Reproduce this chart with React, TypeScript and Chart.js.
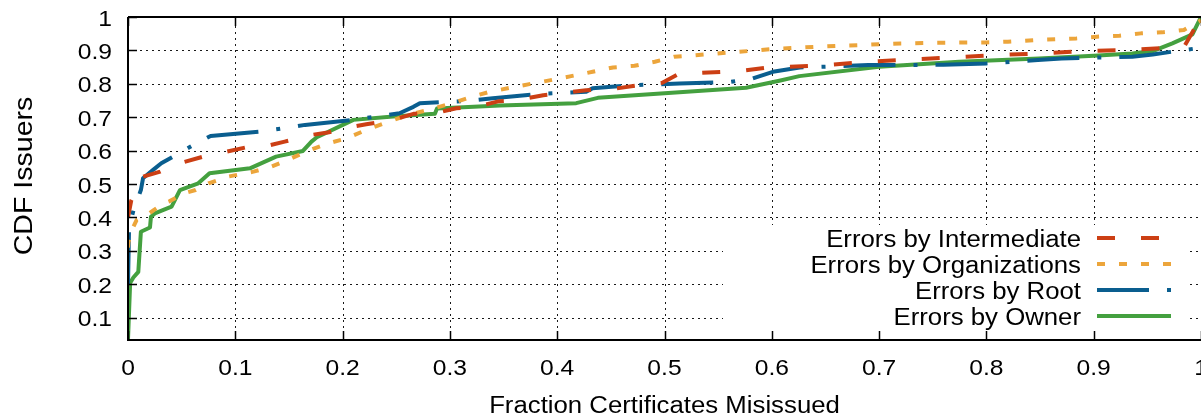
import React, { useEffect, useRef } from 'react';
import { Chart, registerables } from 'chart.js';

Chart.register(...registerables);

const X_TICKS = [0, 0.1, 0.2, 0.3, 0.4, 0.5, 0.6, 0.7, 0.8, 0.9, 1];
const X_TICK_LABELS = ['0', '0.1', '0.2', '0.3', '0.4', '0.5', '0.6', '0.7', '0.8', '0.9', '1'];
const Y_TICKS = [0.1, 0.2, 0.3, 0.4, 0.5, 0.6, 0.7, 0.8, 0.9, 1];
const Y_TICK_LABELS = ['0.1', '0.2', '0.3', '0.4', '0.5', '0.6', '0.7', '0.8', '0.9', '1'];

const SERIES_NAMES = ['Errors by Intermediate', 'Errors by Organizations', 'Errors by Root', 'Errors by Owner'];

const intermediatePts: [number, number][] = [
  [0, 0.40], [0.003, 0.45], [0.014, 0.522], [0.03, 0.537], [0.048, 0.562], [0.07, 0.582],
  [0.092, 0.597], [0.109, 0.609], [0.132, 0.616], [0.146, 0.627], [0.171, 0.647], [0.186, 0.654],
  [0.21, 0.672], [0.222, 0.679], [0.247, 0.692], [0.266, 0.71], [0.288, 0.713], [0.306, 0.727],
  [0.321, 0.728], [0.346, 0.748], [0.362, 0.751], [0.387, 0.766], [0.4, 0.771], [0.427, 0.781],
  [0.455, 0.786], [0.483, 0.799], [0.498, 0.803], [0.514, 0.831], [0.53, 0.832], [0.554, 0.836],
  [0.57, 0.838], [0.595, 0.848], [0.65, 0.856], [0.69, 0.866], [0.73, 0.873], [0.77, 0.879],
  [0.81, 0.886], [0.85, 0.891], [0.89, 0.898], [0.93, 0.901], [0.97, 0.908], [0.985, 0.915],
  [1.0, 1.0],
];

const organizationsPts: [number, number][] = [
  [0, 0.31], [0.0005, 0.327], [0.005, 0.372], [0.008, 0.392], [0.019, 0.41], [0.024, 0.422],
  [0.033, 0.442], [0.039, 0.449], [0.052, 0.472], [0.063, 0.482], [0.075, 0.502], [0.093, 0.522],
  [0.117, 0.537], [0.132, 0.55], [0.149, 0.572], [0.166, 0.597], [0.185, 0.62], [0.204, 0.637],
  [0.222, 0.662], [0.241, 0.684], [0.261, 0.707], [0.28, 0.722], [0.302, 0.742], [0.321, 0.762],
  [0.337, 0.776], [0.356, 0.788], [0.374, 0.799], [0.394, 0.811], [0.413, 0.823], [0.433, 0.836],
  [0.452, 0.849], [0.472, 0.854], [0.491, 0.866], [0.509, 0.881], [0.523, 0.884], [0.542, 0.889],
  [0.562, 0.894], [0.582, 0.899], [0.6, 0.904], [0.643, 0.911], [0.663, 0.914], [0.683, 0.916],
  [0.703, 0.919], [0.72, 0.921], [0.76, 0.923], [0.8, 0.924], [0.82, 0.926], [0.845, 0.931],
  [0.884, 0.936], [0.903, 0.941], [0.924, 0.944], [0.944, 0.951], [0.964, 0.954], [0.984, 0.961],
  [1.0, 0.99],
];

const rootPts: [number, number][] = [
  [0, 0.2], [0.001, 0.37], [0.005, 0.42], [0.012, 0.482], [0.014, 0.517], [0.024, 0.544],
  [0.031, 0.562], [0.042, 0.582], [0.06, 0.615], [0.077, 0.644], [0.123, 0.657], [0.15, 0.669],
  [0.165, 0.677], [0.21, 0.692], [0.253, 0.712], [0.266, 0.731], [0.272, 0.742], [0.297, 0.746],
  [0.318, 0.749], [0.34, 0.757], [0.384, 0.77], [0.405, 0.773], [0.427, 0.776], [0.433, 0.787],
  [0.471, 0.796], [0.493, 0.798], [0.514, 0.801], [0.562, 0.806], [0.582, 0.816], [0.601, 0.836],
  [0.626, 0.849], [0.647, 0.851], [0.69, 0.856], [0.76, 0.857], [0.8, 0.861], [0.848, 0.871],
  [0.87, 0.876], [0.936, 0.881], [0.955, 0.888], [1.0, 0.908],
];

const ownerPts: [number, number][] = [
  [0, 0.035], [0.002, 0.204], [0.005, 0.22], [0.0096, 0.237], [0.012, 0.357], [0.0205, 0.37],
  [0.0214, 0.402], [0.025, 0.412], [0.0406, 0.432], [0.0484, 0.482], [0.0655, 0.502], [0.076, 0.532],
  [0.1136, 0.547], [0.138, 0.582], [0.163, 0.599], [0.171, 0.627], [0.176, 0.64], [0.21, 0.692],
  [0.247, 0.702], [0.286, 0.71], [0.288, 0.726], [0.3464, 0.735], [0.4177, 0.742], [0.4379, 0.758],
  [0.576, 0.788], [0.607, 0.809], [0.6257, 0.823], [0.7, 0.851], [0.7747, 0.866], [0.849, 0.876],
  [0.9, 0.884], [0.936, 0.891], [0.955, 0.898], [0.9733, 0.921], [0.992, 0.948], [1.0, 1.0],
];

const COLORS = ['#cc3f14', '#eca53b', '#0a5e8f', '#44a03f'];
const DASHES: number[][] = [[18, 26], [8, 14], [52, 18, 4, 18], []];
const SERIES = [intermediatePts, organizationsPts, rootPts, ownerPts];

const FONT = "'Liberation Sans', Arial, Helvetica, sans-serif";
const SX = 1.12;

function drawText(ctx: CanvasRenderingContext2D, text: string, x: number, y: number, size: number, align: CanvasTextAlign, rot = 0) {
  ctx.save();
  ctx.font = `${size}px ${FONT}`;
  ctx.textBaseline = 'alphabetic';
  ctx.textAlign = align;
  ctx.fillStyle = '#000';
  ctx.translate(x, y);
  if (rot) ctx.rotate(rot);
  ctx.scale(SX, 1);
  ctx.fillText(text, 0, 0);
  ctx.restore();
}

const gnuplotPlugin = {
  id: 'gnuplotDecor',
  beforeDatasetsDraw(chart: any) {
    const { ctx, chartArea: a, scales } = chart;
    const xs = scales.x, ys = scales.y;
    ctx.save();
    ctx.strokeStyle = 'rgba(0,0,0,0.9)';
    ctx.lineWidth = 1;
    ctx.setLineDash([2, 4]);
    X_TICKS.forEach((v) => {
      if (v <= 0 || v >= 1) return;
      const px = Math.round(xs.getPixelForValue(v)) + 0.5;
      ctx.beginPath();
      ctx.moveTo(px, a.bottom);
      ctx.lineTo(px, a.top);
      ctx.stroke();
    });
    Y_TICKS.forEach((v) => {
      if (v >= 1) return;
      const py = Math.round(ys.getPixelForValue(v)) + 0.5;
      ctx.beginPath();
      ctx.moveTo(a.left, py);
      ctx.lineTo(a.right, py);
      ctx.stroke();
    });
    ctx.restore();
  },
  afterDatasetsDraw(chart: any) {
    const { ctx, chartArea: a, scales } = chart;
    const xs = scales.x, ys = scales.y;
    ctx.save();
    // legend box
    ctx.fillStyle = '#fff';
    ctx.fillRect(723, 225, 1187 - 723, 330 - 225);
    const rows = [238, 264, 290, 316];
    SERIES_NAMES.forEach((name, i) => {
      drawText(ctx, name, 1081, rows[i] + 8.5, 23, 'right');
      ctx.save();
      ctx.strokeStyle = COLORS[i];
      ctx.lineWidth = 4;
      ctx.setLineDash(DASHES[i]);
      ctx.beginPath();
      ctx.moveTo(1097, rows[i]);
      ctx.lineTo(1171, rows[i]);
      ctx.stroke();
      ctx.restore();
    });
    // borders
    ctx.setLineDash([]);
    ctx.strokeStyle = '#000';
    ctx.lineWidth = 2;
    ctx.beginPath();
    ctx.moveTo(a.left, a.top);
    ctx.lineTo(a.right + 2, a.top);
    ctx.moveTo(a.left, a.top);
    ctx.lineTo(a.left, a.bottom);
    ctx.moveTo(a.left - 1, a.bottom);
    ctx.lineTo(a.right + 2, a.bottom);
    ctx.stroke();
    // tick marks
    ctx.lineWidth = 1.5;
    X_TICKS.forEach((v) => {
      const px = Math.round(xs.getPixelForValue(v)) + 0.5;
      ctx.beginPath();
      ctx.moveTo(px, a.bottom);
      ctx.lineTo(px, a.bottom - 9);
      ctx.moveTo(px, a.top);
      ctx.lineTo(px, a.top + 9);
      ctx.stroke();
    });
    Y_TICKS.forEach((v) => {
      const py = Math.round(ys.getPixelForValue(v)) + 0.5;
      ctx.beginPath();
      ctx.moveTo(a.left, py);
      ctx.lineTo(a.left + 9, py);
      ctx.stroke();
    });
    // tick labels
    X_TICKS.forEach((v, i) => {
      drawText(ctx, X_TICK_LABELS[i], xs.getPixelForValue(v), 375, 22, 'center');
    });
    Y_TICKS.forEach((v, i) => {
      drawText(ctx, Y_TICK_LABELS[i], 112, ys.getPixelForValue(v) + 8.5, 22, 'right');
    });
    // axis titles
    drawText(ctx, 'Fraction Certificates Misissued', (a.left + a.right) / 2, 413, 23, 'center');
    drawText(ctx, 'CDF Issuers', 32, 176, 25.5, 'center', -Math.PI / 2);
    ctx.restore();
  },
};

export default function App() {
  const ref = useRef<HTMLCanvasElement | null>(null);
  useEffect(() => {
    if (!ref.current) return;
    const chart = new Chart(ref.current, {
      type: 'line',
      data: {
        datasets: SERIES.map((pts, i) => ({
          label: SERIES_NAMES[i],
          data: pts.map(([x, y]) => ({ x, y })),
          borderColor: COLORS[i],
          borderWidth: 4,
          borderDash: DASHES[i],
          borderCapStyle: 'butt',
          borderJoinStyle: 'round',
          pointRadius: 0,
          fill: false,
          tension: 0,
        })),
      },
      options: {
        animation: false,
        responsive: false,
        devicePixelRatio: 1,
        layout: { padding: { left: 128, top: 17, right: 0, bottom: 79 } },
        plugins: { legend: { display: false }, tooltip: { enabled: false } },
        scales: {
          x: { type: 'linear', min: 0, max: 1, display: false },
          y: { type: 'linear', min: 0.033, max: 1, display: false },
        },
      },
      plugins: [gnuplotPlugin],
    } as any);
    return () => chart.destroy();
  }, []);
  return (
    <div style={{ position: 'fixed', left: 0, top: 0, width: 1201, height: 419, background: '#fff' }}>
      <canvas ref={ref} width={1201} height={419} style={{ width: 1201, height: 419, display: 'block' }} />
    </div>
  );
}
